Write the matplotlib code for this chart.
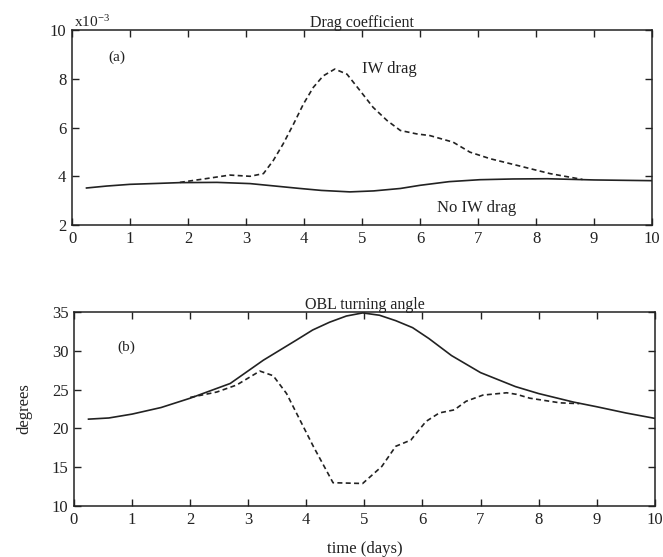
import matplotlib.pyplot as plt
import numpy as np

plt.rcParams['font.family'] = ['Liberation Serif', 'DejaVu Serif']
plt.rcParams['mathtext.fontset'] = 'stix'

# == Dados ==

# (a) coeficiente de arrasto, sem arrasto de ondas internas
t_sem = [0.25, 0.6, 1.0, 1.5, 1.86, 2.5, 3.07, 3.5, 3.93, 4.3, 4.79, 5.2, 5.66, 6.0, 6.5, 7.03, 7.6, 8.19, 9.0, 10.0]
cd_sem = [3.52, 3.6, 3.67, 3.71, 3.74, 3.75, 3.7, 3.6, 3.5, 3.42, 3.36, 3.4, 3.5, 3.63, 3.78, 3.86, 3.89, 3.9, 3.85, 3.82]

# (a) coeficiente de arrasto, com arrasto de ondas internas
t_iw = [1.86, 2.3, 2.72, 3.07, 3.3, 3.47, 3.64, 3.82, 3.99, 4.16, 4.33, 4.53, 4.74, 4.97,
        5.19, 5.43, 5.66, 5.94, 6.17, 6.57, 6.86, 7.21, 7.67, 8.24, 8.8]
cd_iw = [3.75, 3.9, 4.05, 4.0, 4.11, 4.65, 5.33, 6.15, 6.97, 7.65, 8.12, 8.4, 8.19, 7.5,
         6.83, 6.29, 5.88, 5.74, 5.67, 5.4, 4.99, 4.72, 4.45, 4.11, 3.87]

# (b) ângulo de giro da camada limite, sem arrasto
t_ang = [0.25, 0.6, 1.0, 1.5, 2.0, 2.69, 3.26, 3.83, 4.11, 4.4, 4.69, 4.97, 5.26, 5.54, 5.83,
         6.11, 6.5, 7.0, 7.6, 8.0, 8.6, 9.0, 9.5, 10.0]
ang_sem = [21.2, 21.35, 21.85, 22.7, 23.9, 25.8, 28.8, 31.4, 32.7, 33.7, 34.5, 34.9, 34.6, 33.9, 33.0,
           31.6, 29.4, 27.2, 25.4, 24.5, 23.4, 22.8, 22.0, 21.3]

# (b) ângulo de giro, com arrasto de ondas internas
t_ang_iw = [2.0, 2.46, 2.8, 3.2, 3.43, 3.66, 3.89, 4.12, 4.46, 4.97, 5.3, 5.54, 5.8,
            6.06, 6.29, 6.55, 6.75, 7.04, 7.45, 7.62, 7.85, 8.37, 8.7]
ang_iw = [24.0, 24.7, 25.6, 27.4, 26.8, 24.5, 21.1, 17.7, 13.0, 12.9, 15.1, 17.7, 18.5,
          20.9, 22.0, 22.4, 23.5, 24.3, 24.6, 24.4, 23.9, 23.3, 23.2]

xticks = list(range(0, 11))
yticks_a = [2, 4, 6, 8, 10]
yticks_b = [10, 15, 20, 25, 30, 35]

cor = '#222222'

fig = plt.figure(figsize=(6.63, 5.57), dpi=100)
ax1 = fig.add_axes([0.1086, 0.596, 0.875, 0.350])
ax2 = fig.add_axes([0.1116, 0.0916, 0.876, 0.348])

# == painel (a) ==
ax1.plot(t_sem, np.array(cd_sem) * 1e-3, color=cor, linewidth=1.2)
ax1.plot(t_iw, np.array(cd_iw) * 1e-3, color=cor, linewidth=1.2, linestyle=(0, (3, 2)))
ax1.set_xlim(0, 10)
ax1.set_ylim(2e-3, 10e-3)
ax1.set_yticks([v * 1e-3 for v in yticks_a])
ax1.set_yticklabels([str(v) for v in yticks_a])
ax1.set_title('Drag coefficient', fontsize=11.5, pad=2, color=cor)
ax1.text(0.003, 1.0, r'x10$^{\mathregular{-3}}$', transform=ax1.transAxes,
         fontsize=11, ha='left', va='bottom', color=cor)
ax1.text(0.63, 8.75e-3, '(a)', fontsize=11, color=cor)
ax1.text(5.0, 8.25e-3, 'IW drag', fontsize=12, color=cor)
ax1.text(6.3, 2.55e-3, 'No IW drag', fontsize=12, color=cor)

# == painel (b) ==
ax2.plot(t_ang, ang_sem, color=cor, linewidth=1.2)
ax2.plot(t_ang_iw, ang_iw, color=cor, linewidth=1.2, linestyle=(0, (3, 2)))
ax2.set_xlim(0, 10)
ax2.set_ylim(10, 35)
ax2.set_yticks(yticks_b)
ax2.set_title('OBL turning angle', fontsize=11.5, pad=2, color=cor)
ax2.text(0.75, 30.0, '(b)', fontsize=11, color=cor)
ax2.set_ylabel('degrees', fontsize=12, color=cor, labelpad=14)
ax2.set_xlabel('time (days)', fontsize=12, color=cor, labelpad=10)

for ax in (ax1, ax2):
    ax.set_xticks(xticks)
    ax.tick_params(direction='in', top=True, right=True, length=5, width=1,
                   labelsize=12, colors=cor, pad=4)
    for s in ax.spines.values():
        s.set_linewidth(1.1)
        s.set_color(cor)

fig.savefig('out.png', dpi=100)
